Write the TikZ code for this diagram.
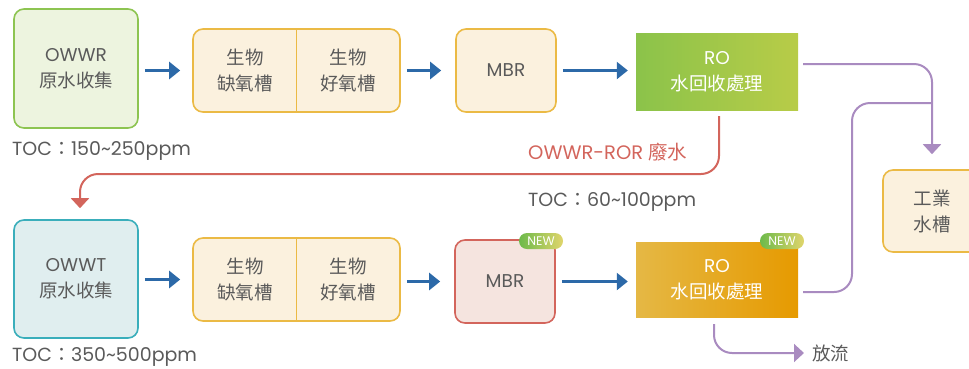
\documentclass[tikz,border=0pt]{standalone}
\usepackage{fontspec}
\setmainfont{Poppins}
\newfontfamily\cjk{Noto Sans CJK TC}
\usetikzlibrary{arrows.meta}
\definecolor{txt}{HTML}{5A5A5A}
\definecolor{arrowblue}{HTML}{2C69A8}
\definecolor{grnB}{HTML}{8DC451}
\definecolor{grnF}{HTML}{EDF4DF}
\definecolor{yelB}{HTML}{EBBA45}
\definecolor{yelF}{HTML}{FBF1DE}
\definecolor{tealB}{HTML}{3AAEBB}
\definecolor{tealF}{HTML}{E0EEEF}
\definecolor{redB}{HTML}{D3655C}
\definecolor{redF}{HTML}{F5E4DF}
\definecolor{purp}{HTML}{A98BC0}
\definecolor{roGa}{HTML}{8BC34A}
\definecolor{roGb}{HTML}{B8CC48}
\definecolor{roOa}{HTML}{E5B845}
\definecolor{roOb}{HTML}{E69A00}
\definecolor{newA}{HTML}{6DBA4B}
\definecolor{newB}{HTML}{E0D56C}
\tikzset{
  boxbase/.style={rounded corners=10pt, line width=1.6pt, align=center, text=txt,
    font=\fontsize{18.5}{26}\selectfont, inner sep=0pt},
  robox/.style={align=center, text=white, font=\fontsize{18.5}{26}\selectfont,
    minimum width=162pt, minimum height=77pt, inner sep=0pt},
  newbadge/.style={rounded corners=8pt, left color=newA, right color=newB, text=white,
    font=\fontsize{12.5}{12.5}\selectfont, minimum width=44pt, minimum height=16pt, inner sep=0pt},
  bluearrow/.style={arrowblue, line width=2.4pt, -{Triangle[length=11pt,width=17pt]}},
  purparrow/.style={purp, line width=2pt, rounded corners=18pt, -{Triangle[length=10pt,width=18pt]}},
  purpline/.style={purp, line width=2pt, rounded corners=18pt},
  redarrow/.style={redB, line width=2pt, rounded corners=18pt, -{Triangle[length=10pt,width=18pt]}},
  lbl/.style={anchor=west, text=txt, font=\fontsize{19}{22}\selectfont, inner sep=0pt},
}
\begin{document}
\begin{tikzpicture}[x=1pt,y=-1pt]
\useasboundingbox (0,0) rectangle (969,368);
% row 1
\node[boxbase, draw=grnB, fill=grnF, minimum width=124pt, minimum height=119pt] (owwr) at (76,68.5) {OWWR\\{\cjk 原水收集}};
\node[boxbase, draw=yelB, fill=yelF, minimum width=207pt, minimum height=83pt] (bio1) at (296.5,70.5) {};
\draw[yelB, line width=1.6pt] (bio1.north) -- (bio1.south);
\node[boxbase] (bio1a) at (245,70.5) {\cjk 生物\\\cjk 缺氧槽};
\node[boxbase] (bio1b) at (348,70.5) {\cjk 生物\\\cjk 好氧槽};
\node[boxbase, draw=yelB, fill=yelF, minimum width=100pt, minimum height=83pt] (mbr1) at (506,70.5) {MBR};
\node[robox, left color=roGa, right color=roGb] (ro1) at (717,71.5) {RO\\{\cjk 水回收處理}};
\node[boxbase, draw=yelB, fill=yelF, minimum width=98pt, minimum height=82pt] (tank) at (932,211) {{\cjk 工業}\\{\cjk 水槽}};
% row 2
\node[boxbase, draw=tealB, fill=tealF, minimum width=124pt, minimum height=118pt] (owwt) at (76,279) {OWWT\\{\cjk 原水收集}};
\node[boxbase, draw=yelB, fill=yelF, minimum width=207pt, minimum height=83pt] (bio2) at (296.5,279.5) {};
\draw[yelB, line width=1.6pt] (bio2.north) -- (bio2.south);
\node[boxbase] (bio2a) at (245,279.5) {\cjk 生物\\\cjk 缺氧槽};
\node[boxbase] (bio2b) at (348,279.5) {\cjk 生物\\\cjk 好氧槽};
\node[boxbase, draw=redB, fill=redF, minimum width=100pt, minimum height=83pt] (mbr2) at (505,281.5) {MBR};
\node[robox, left color=roOa, right color=roOb, minimum height=75pt] (ro2) at (717,279.5) {RO\\{\cjk 水回收處理}};
\node[newbadge] (new1) at (541,241) {NEW};
\node[newbadge] (new2) at (782,241) {NEW};
% labels
\node[lbl] (toc1) at (12,151) {TOC{\cjk ：}150\textasciitilde250ppm};
\node[lbl, text=redB, font=\fontsize{19.5}{22}\selectfont] (rorlbl) at (528,152) {OWWR-ROR {\cjk 廢水}};
\node[lbl] (toc2) at (528,202) {TOC{\cjk ：}60\textasciitilde100ppm};
\node[lbl] (toc3) at (12,357) {TOC{\cjk ：}350\textasciitilde500ppm};
% blue arrows
\draw[bluearrow, shorten <=6pt, shorten >=12pt] (owwr.east |- bio1.west) -- (bio1.west);
\draw[bluearrow, shorten <=6pt, shorten >=14pt] (bio1.east) -- (bio1.east -| mbr1.west);
\draw[bluearrow, shorten <=6pt, shorten >=8pt] (mbr1.east) -- (mbr1.east -| ro1.west);
\draw[bluearrow, shorten <=6pt, shorten >=12pt] (owwt.east |- bio2.west) -- (bio2.west);
\draw[bluearrow, shorten <=6pt, shorten >=14pt] (bio2.east |- mbr2.west) -- (mbr2.west);
\draw[bluearrow, shorten <=6pt, shorten >=8pt] (mbr2.east) -- (mbr2.east -| ro2.west);
% purple connectors
\coordinate (join) at (932,103);
\draw[purparrow, shorten <=5pt, shorten >=15pt] ([yshift=7.5pt]ro1.east) -| (tank.north);
\draw[purpline, shorten <=5pt] ([yshift=-12.5pt]ro2.east) -- (852,292) -- (852,103) -- (join);
\coordinate (outlet) at (804,353);
\node[anchor=west, text=txt, font=\fontsize{18.5}{20}\selectfont, inner sep=0pt] (fangliu) at (812,353) {\cjk 放流};
\draw[purparrow, shorten <=7pt] ([xshift=-3pt]ro2.south) |- (outlet);
% red connector
\draw[redarrow, shorten <=6pt, shorten >=11pt] ([xshift=2pt]ro1.south) -- (719,174) -- (80,174) -- ([xshift=4pt]owwt.north);
\end{tikzpicture}
\end{document}
